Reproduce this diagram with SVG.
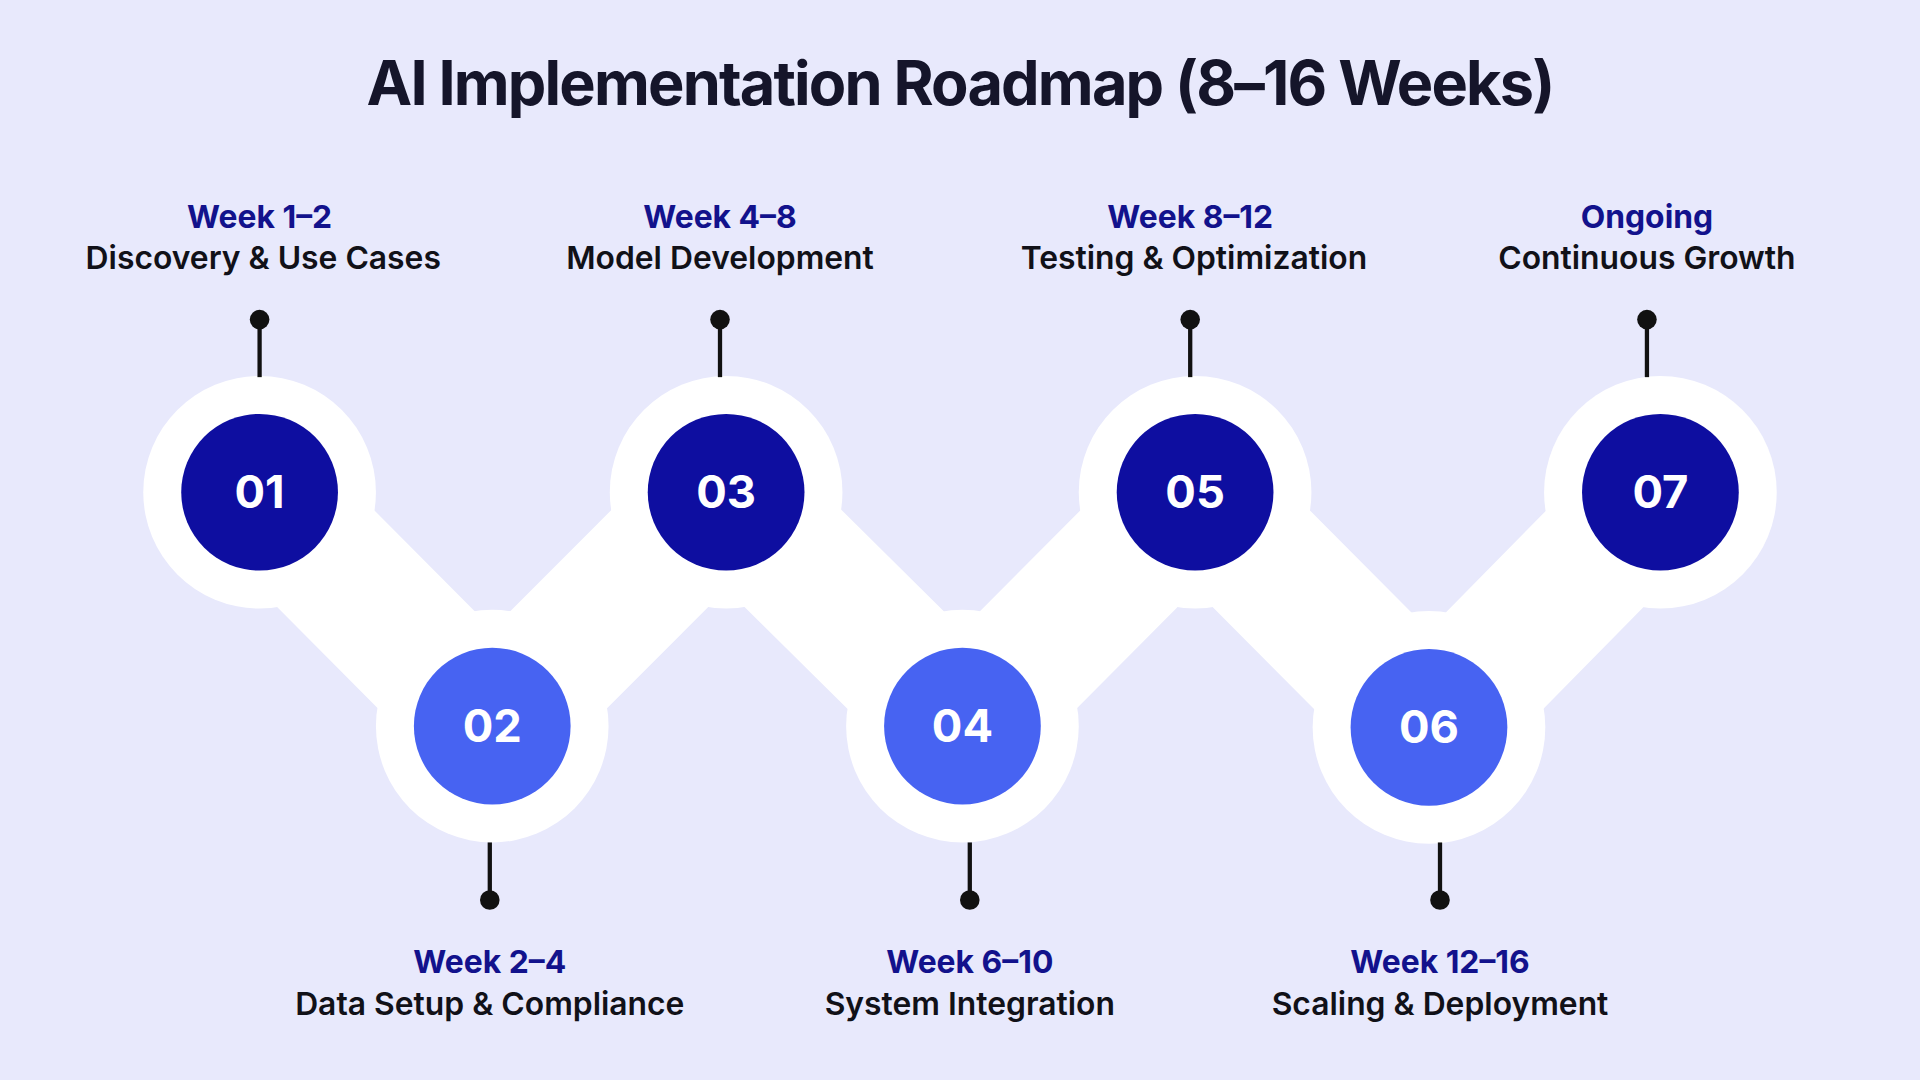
<svg xmlns="http://www.w3.org/2000/svg" width="1920" height="1080" viewBox="0 0 1920 1080">
<style>
.t{font-family:"Inter","Liberation Sans",sans-serif;font-weight:700;text-anchor:middle}
.wk{font-size:26px;fill:#12128c}
.ds{font-size:26px;fill:#111118;font-weight:600}
.num{font-size:37px;fill:#fff}
.pin{stroke:#111;stroke-width:3.5}
.dark{fill:#0e0ea0}
.light{fill:#4763f2}
</style>
<rect width="1920" height="1080" fill="#e8e9fc"/>
<g transform="scale(1.22449)">
<text class="t" x="784" y="86" font-size="50" fill="#15152a" letter-spacing="-1.5">AI Implementation Roadmap (8–16 Weeks)</text>
<g id="band" fill="#fff">
<path d="M212,402 L402,593 L593,402 L786,593 L976,402 L1167,594 L1356,402" fill="none" stroke="#fff" stroke-width="112" stroke-linejoin="round"/>
<circle cx="212" cy="402" r="95"/><circle cx="402" cy="593" r="95"/><circle cx="593" cy="402" r="95"/><circle cx="786" cy="593" r="95"/><circle cx="976" cy="402" r="95"/><circle cx="1167" cy="594" r="95"/><circle cx="1356" cy="402" r="95"/>
</g>
<g id="connectors">
<line class="pin" x1="212" y1="261" x2="212" y2="308"/><circle cx="212" cy="261" r="8" fill="#111"/>
<line class="pin" x1="588" y1="261" x2="588" y2="308"/><circle cx="588" cy="261" r="8" fill="#111"/>
<line class="pin" x1="972" y1="261" x2="972" y2="308"/><circle cx="972" cy="261" r="8" fill="#111"/>
<line class="pin" x1="1345" y1="261" x2="1345" y2="308"/><circle cx="1345" cy="261" r="8" fill="#111"/>
<line class="pin" x1="400" y1="688" x2="400" y2="735"/><circle cx="400" cy="735" r="8" fill="#111"/>
<line class="pin" x1="792" y1="688" x2="792" y2="735"/><circle cx="792" cy="735" r="8" fill="#111"/>
<line class="pin" x1="1176" y1="688" x2="1176" y2="735"/><circle cx="1176" cy="735" r="8" fill="#111"/>
</g>
<g id="n1"><circle class="dark" cx="212" cy="402" r="64"/><text class="t num" x="212" y="415">01</text>
<text class="t wk" x="212" y="186">Week 1–2</text><text class="t ds" x="215" y="220">Discovery &amp; Use Cases</text></g>
<g id="n2"><circle class="light" cx="402" cy="593" r="64"/><text class="t num" x="402" y="606">02</text>
<text class="t wk" x="400" y="795">Week 2–4</text><text class="t ds" x="400" y="829">Data Setup &amp; Compliance</text></g>
<g id="n3"><circle class="dark" cx="593" cy="402" r="64"/><text class="t num" x="593" y="415">03</text>
<text class="t wk" x="588" y="186">Week 4–8</text><text class="t ds" x="588" y="220">Model Development</text></g>
<g id="n4"><circle class="light" cx="786" cy="593" r="64"/><text class="t num" x="786" y="606">04</text>
<text class="t wk" x="792" y="795">Week 6–10</text><text class="t ds" x="792" y="829">System Integration</text></g>
<g id="n5"><circle class="dark" cx="976" cy="402" r="64"/><text class="t num" x="976" y="415">05</text>
<text class="t wk" x="972" y="186">Week 8–12</text><text class="t ds" x="975" y="220">Testing &amp; Optimization</text></g>
<g id="n6"><circle class="light" cx="1167" cy="594" r="64"/><text class="t num" x="1167" y="607">06</text>
<text class="t wk" x="1176" y="795">Week 12–16</text><text class="t ds" x="1176" y="829">Scaling &amp; Deployment</text></g>
<g id="n7"><circle class="dark" cx="1356" cy="402" r="64"/><text class="t num" x="1356" y="415">07</text>
<text class="t wk" x="1345" y="186">Ongoing</text><text class="t ds" x="1345" y="220">Continuous Growth</text></g>
</g>
</svg>
